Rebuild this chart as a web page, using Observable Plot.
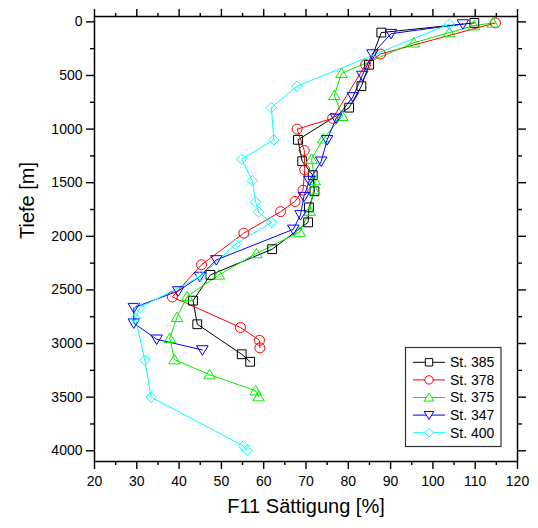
<!DOCTYPE html>
<html>
<head>
<meta charset="utf-8">
<script src="https://cdn.jsdelivr.net/npm/d3@7"></script>
<script src="https://cdn.jsdelivr.net/npm/@observablehq/plot@0.6"></script>
<style>
  html, body { margin: 0; padding: 0; background: #fff; }
  #chart { width: 538px; height: 528px; }
</style>
</head>
<body>
<div id="chart"></div>
<script>
// ---- data (depth in m, F11 saturation in %) ----
const stationNames = ["St. 385", "St. 378", "St. 375", "St. 347", "St. 400"];
const stationColors = ["#000000", "#ff0000", "#00ee00", "#0000ff", "#00ffff"];

const st385Depth = [10, 100, 400, 600, 800, 1100, 1300, 1430, 1580, 1730, 1870, 2120, 2360, 2600, 2820, 3100, 3170];
const st385F11   = [109.8, 87.8, 84.9, 83.1, 80.2, 68.1, 69.1, 71.6, 72.0, 70.7, 70.5, 62.0, 47.4, 43.3, 44.3, 54.8, 56.8];

const st378Depth = [10, 300, 400, 900, 1000, 1200, 1380, 1570, 1675, 1770, 1970, 2265, 2565, 2850, 2970, 3040];
const st378F11   = [114.8, 87.6, 84.1, 76.3, 67.9, 69.6, 69.7, 69.3, 67.4, 64.0, 55.3, 45.3, 38.4, 54.5, 59.0, 59.1];

const st375Depth = [10, 35, 100, 195, 480, 685, 880, 1090, 1280, 1480, 1565, 1765, 1960, 2160, 2360, 2560, 2755, 2950, 3150, 3290, 3440, 3495];
const st375F11   = [114.2, 109.7, 103.9, 95.5, 78.4, 76.7, 78.6, 74.1, 71.3, 72.1, 71.8, 70.9, 68.5, 58.3, 49.4, 41.9, 39.5, 37.8, 38.9, 47.2, 58.1, 58.8];

const st347Depth = [20, 110, 300, 500, 700, 900, 1100, 1300, 1480, 1630, 1800, 1935, 2220, 2375, 2510, 2665, 2810, 2960, 3060];
const st347F11   = [107.1, 90.1, 85.7, 83.3, 81.1, 77.1, 75.0, 73.6, 70.8, 69.5, 68.7, 67.0, 48.8, 44.9, 39.8, 29.3, 29.3, 34.7, 45.5];

const st400Depth = [20, 600, 800, 1100, 1280, 1480, 1680, 1775, 1870, 2075, 2370, 2665, 2765, 3155, 3500, 3955, 3995];
const st400F11   = [103.9, 67.9, 61.8, 62.4, 54.8, 57.3, 58.1, 58.8, 61.8, 53.3, 45.2, 30.7, 29.7, 31.9, 33.4, 55.2, 56.1];

const xMajorTicks = [20, 30, 40, 50, 60, 70, 80, 90, 100, 110, 120];
const xMinorTicks = [25, 35, 45, 55, 65, 75, 85, 95, 105, 115];
const yMajorTicks = [0, 500, 1000, 1500, 2000, 2500, 3000, 3500, 4000];
const yMinorTicks = [250, 750, 1250, 1750, 2250, 2750, 3250, 3750];

// ---- custom hollow symbols ----
function polySymbol(fn) {
  return {
    draw(ctx, size) {
      const r = Math.sqrt(size / Math.PI);
      const pts = fn(r);
      ctx.moveTo(pts[0][0], pts[0][1]);
      for (let i = 1; i < pts.length; i++) ctx.lineTo(pts[i][0], pts[i][1]);
      ctx.closePath();
    }
  };
}
const symSquare = polySymbol(r => { const h = r * 0.88; return [[-h, -h], [h, -h], [h, h], [-h, h]]; });
const symCircle = {
  draw(ctx, size) { const r = Math.sqrt(size / Math.PI); ctx.moveTo(r, 0); ctx.arc(0, 0, r, 0, 2 * Math.PI); }
};
const symTriUp = polySymbol(r => [[0, -r * 1.05], [r * 1.15, r * 0.85], [-r * 1.15, r * 0.85]]);
const symTriDown = polySymbol(r => [[0, r * 1.05], [r * 1.15, -r * 0.85], [-r * 1.15, -r * 0.85]]);
const symDiamond = polySymbol(r => [[0, -r * 1.05], [r * 1.05, 0], [0, r * 1.05], [-r * 1.05, 0]]);
const stationSymbols = [symSquare, symCircle, symTriUp, symTriDown, symDiamond];

const depths = [st385Depth, st378Depth, st375Depth, st347Depth, st400Depth];
const values = [st385F11, st378F11, st375F11, st347F11, st400F11];

const series = stationNames.map((name, i) => ({
  name, color: stationColors[i], symbol: stationSymbols[i],
  data: depths[i].map((d, j) => ({ depth: d, f11: values[i][j] }))
}));

const font = "Liberation Sans, Arial, Helvetica, sans-serif";
const fmt = d => String(d);

const marks = [];
// axes
marks.push(
  Plot.axisX({ anchor: "bottom", ticks: xMajorTicks, tickFormat: fmt, tickSize: 8, tickPadding: 7, strokeWidth: 1.4, fontSize: 14, label: null }),
  Plot.axisX({ anchor: "bottom", ticks: xMinorTicks, tickSize: 4, text: null, strokeWidth: 1.4, label: null }),
  Plot.axisX({ anchor: "top", ticks: xMajorTicks, tickSize: 8, text: null, strokeWidth: 1.4, label: null }),
  Plot.axisX({ anchor: "top", ticks: xMinorTicks, tickSize: 4, text: null, strokeWidth: 1.4, label: null }),
  Plot.axisY({ anchor: "left", ticks: yMajorTicks, tickFormat: fmt, tickSize: 8, tickPadding: 4, strokeWidth: 1.4, fontSize: 14, label: null }),
  Plot.axisY({ anchor: "left", ticks: yMinorTicks, tickSize: 4, text: null, strokeWidth: 1.4, label: null }),
  Plot.axisY({ anchor: "right", ticks: yMajorTicks, tickSize: 8, text: null, strokeWidth: 1.4, label: null }),
  Plot.axisY({ anchor: "right", ticks: yMinorTicks, tickSize: 4, text: null, strokeWidth: 1.4, label: null })
);
// data
series.forEach(s => {
  marks.push(Plot.line(s.data, { x: "f11", y: "depth", stroke: s.color, strokeWidth: 1 }));
});
series.forEach(s => {
  marks.push(Plot.dot(s.data, { x: "f11", y: "depth", stroke: s.color, fill: "none", strokeWidth: 1, r: 5, symbol: s.symbol }));
});
marks.push(Plot.frame({ stroke: "#000", strokeWidth: 1.5 }));
// axis titles
marks.push(
  Plot.text(["F11 Sättigung [%]"], { frameAnchor: "bottom", dy: 51, fontSize: 20, fill: "#000" }),
  Plot.text(["Tiefe [m]"], { frameAnchor: "left", dx: -67, rotate: -90, fontSize: 20, fill: "#000" })
);

const svg = Plot.plot({
  width: 538,
  height: 528,
  marginLeft: 94,
  marginRight: 21,
  marginTop: 16,
  marginBottom: 67,
  style: { fontFamily: font, fontSize: "14px", color: "#000", background: "#fff" },
  x: { domain: [20, 120], label: null },
  y: { domain: [-50, 4100], reverse: true, label: null },
  marks
});
svg.setAttribute("font-family", font);

// ---- legend (inside the frame, bottom-right) ----
const lg = d3.select(svg).append("g").attr("font-family", font).attr("font-size", 14).attr("text-anchor", "start");
lg.append("rect").attr("x", 405.5).attr("y", 347.5).attr("width", 95.5).attr("height", 99)
  .attr("fill", "#fff").attr("stroke", "#333").attr("stroke-width", 1.2);
series.forEach((s, i) => {
  const y = 362.3 + i * 17.6;
  const g = lg.append("g").attr("transform", `translate(0,${y})`);
  g.append("line").attr("x1", 413).attr("x2", 445).attr("y1", 0).attr("y2", 0)
    .attr("stroke", s.color).attr("stroke-width", 1);
  g.append("path").attr("d", d3.symbol(s.symbol, Math.PI * 4.2 * 4.2)())
    .attr("transform", "translate(429,0)").attr("fill", "#fff").attr("stroke", s.color).attr("stroke-width", 1);
  g.append("text").attr("x", 450).attr("y", 0).attr("dy", "0.35em").attr("fill", "#000")
    .attr("text-anchor", "start").text(s.name);
});

document.getElementById("chart").appendChild(svg);
</script>
</body>
</html>
